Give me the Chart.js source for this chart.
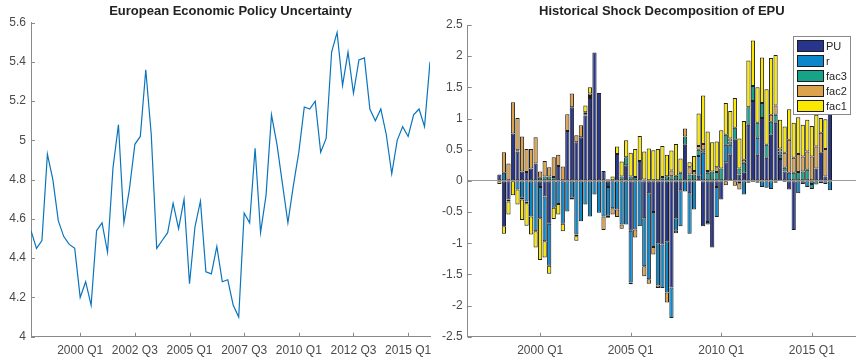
<!DOCTYPE html>
<html>
<head>
<meta charset="utf-8">
<script src="https://cdn.jsdelivr.net/npm/chart.js@4/dist/chart.umd.min.js"></script>
<style>
  html, body { margin: 0; padding: 0; background: #fff; }
  #wrap { position: relative; width: 856px; height: 361px; overflow: hidden; }
  #epuLine { position: absolute; left: 0; top: 0; }
  #epuDecomp { position: absolute; left: 440px; top: 0; }
</style>
</head>
<body>
<div id="wrap">
  <canvas id="epuLine" width="440" height="361"></canvas>
  <canvas id="epuDecomp" width="416" height="361"></canvas>
</div>
<script>
// Quarterly sample
const quarters = [
  '1997Q4',
  '1998Q1','1998Q2','1998Q3','1998Q4',
  '1999Q1','1999Q2','1999Q3','1999Q4',
  '2000Q1','2000Q2','2000Q3','2000Q4',
  '2001Q1','2001Q2','2001Q3','2001Q4',
  '2002Q1','2002Q2','2002Q3','2002Q4',
  '2003Q1','2003Q2','2003Q3','2003Q4',
  '2004Q1','2004Q2','2004Q3','2004Q4',
  '2005Q1','2005Q2','2005Q3','2005Q4',
  '2006Q1','2006Q2','2006Q3','2006Q4',
  '2007Q1','2007Q2','2007Q3','2007Q4',
  '2008Q1','2008Q2','2008Q3','2008Q4',
  '2009Q1','2009Q2','2009Q3','2009Q4',
  '2010Q1','2010Q2','2010Q3','2010Q4',
  '2011Q1','2011Q2','2011Q3','2011Q4',
  '2012Q1','2012Q2','2012Q3','2012Q4',
  '2013Q1','2013Q2','2013Q3','2013Q4',
  '2014Q1','2014Q2','2014Q3','2014Q4',
  '2015Q1','2015Q2','2015Q3','2015Q4',
  '2016Q1'
];

// European Economic Policy Uncertainty (log level)
const epu = [
  4.54,
  4.45, 4.49, 4.93, 4.80,
  4.59, 4.51, 4.47, 4.45,
  4.20, 4.28, 4.16, 4.54,
  4.58, 4.43, 4.86, 5.08,
  4.58, 4.75, 4.98, 5.02,
  5.36, 5.03, 4.45, 4.49,
  4.53, 4.68, 4.55, 4.70,
  4.27, 4.56, 4.69, 4.33,
  4.32, 4.46, 4.28, 4.29,
  4.16, 4.10, 4.63, 4.58,
  4.96, 4.53, 4.72, 5.13,
  4.98, 4.78, 4.58, 4.77,
  4.94, 5.17, 5.16, 5.20,
  4.94, 5.01, 5.45, 5.55,
  5.28, 5.45, 5.24, 5.41,
  5.42, 5.16, 5.10, 5.16,
  5.03, 4.83, 5.00, 5.07,
  5.02, 5.13, 5.16, 5.07,
  5.40
];

// Historical shock decomposition contributions
const shockPU = [
  0.10,
  -0.73, -0.30, 0.76, 0.47,
  0.15, 0.14, 0.20, 0.28,
  -0.10, -0.25, -0.69, 0.00,
  0.24, 0.00, 0.80, 1.18,
  0.62, 0.70, 1.05, 1.33,
  2.06, 1.41, 0.16, -0.10,
  0.00, 0.43, 0.00, 0.25,
  -0.80, 0.00, 0.32, -0.60,
  -0.20, -0.50, -1.00, -1.02,
  -0.97, -1.71, -0.60, -0.15,
  0.58, -0.20, 0.00, 0.08,
  -0.73, -0.66, -1.07, -0.10,
  -0.30, 0.30, 0.42, 0.66,
  0.10, 0.13, 0.90, 1.28,
  0.42, 1.01, 0.37, 0.74,
  0.93, 0.35, 0.15, -0.14,
  -0.79, 0.00, -0.05, 0.00,
  0.00, 0.20, 0.45, 0.07,
  1.15
];
const shockR = [
  0.00,
  0.13, 0.00, 0.00, -0.14,
  -0.27, -0.33, -0.57, -0.81,
  -0.50, -0.72, -0.67, -0.43,
  -0.37, -0.69, -0.49, -0.27,
  -0.86, -0.65, -0.38, -0.57,
  -0.22, -0.51, -0.57, -0.46,
  -0.44, -0.46, -0.70, -0.70,
  -0.83, -0.78, -0.73, -0.77,
  -1.38, -0.56, -0.68, -0.70,
  -0.82, -0.49, -0.20, -0.58,
  -0.17, -0.65, -0.46, 0.32,
  0.45, -0.04, 0.00, -0.48,
  0.00, 0.28, 0.16, 0.00,
  -0.04, -0.22, -0.03, -0.02,
  0.27, -0.10, -0.11, -0.13,
  -0.03, 0.07, -0.02, 0.13,
  0.00, -0.20, 0.00, -0.10,
  -0.05, 0.00, -0.04, -0.05,
  -0.15
];
const shockFac3 = [
  0.00,
  0.00, -0.03, 0.00, 0.02,
  -0.03, -0.03, 0.00, 0.00,
  0.05, 0.07, 0.07, 0.06,
  0.00, 0.00, 0.00, -0.03,
  -0.03, 0.00, 0.02, 0.03,
  0.00, 0.00, 0.00, -0.03,
  0.00, 0.00, 0.07, 0.13,
  0.07, 0.06, 0.00, 0.02,
  0.00, 0.00, 0.00, 0.06,
  0.075, 0.075, 0.08, 0.13,
  0.13, 0.10, 0.10, 0.10,
  0.04, 0.13, 0.15, 0.14,
  0.20, 0.16, 0.05, 0.19,
  0.10, 0.16, 0.28, 0.24,
  0.24, 0.24, 0.21, 0.21,
  0.13, 0.05, 0.06, 0.00,
  0.13, 0.14, 0.15, 0.18,
  -0.08, -0.06, 0.00, 0.00,
  0.00
];
const shockFac2 = [
  0.00,
  0.33, 0.28, 0.50, 0.52,
  0.56, 0.37, 0.31, 0.42,
  0.10, 0.25, 0.15, 0.32,
  0.18, 0.23, 0.27, 0.22,
  0.11, 0.19, 0.03, 0.04,
  0.00, 0.00, -0.22, 0.02,
  -0.10, -0.12, -0.07, 0.00,
  -0.03, -0.13, 0.00, -0.16,
  -0.07, -0.12, -0.04, 0.00,
  -0.16, 0.09, -0.04, 0.00,
  0.13, 0.12, 0.06, 0.06,
  0.10, 0.03, 0.00, 0.08,
  0.00, -0.07, 0.05, -0.08,
  -0.10, 0.05, 0.00, 0.00,
  -0.03, 0.00, 0.00, 0.11,
  0.15, 0.05, 0.24, 0.53,
  0.24, 0.29, 0.24, 0.29,
  0.39, 0.35, 0.32, 0.44,
  0.00
];
const shockFac1 = [
  -0.05,
  -0.12, -0.21, -0.23, -0.24,
  -0.33, -0.36, -0.29, -0.26,
  -0.67, -0.26, -0.13, -0.18,
  -0.17, -0.12, 0.00, 0.00,
  -0.07, 0.00, 0.11, 0.10,
  0.00, 0.00, 0.00, 0.01,
  0.07, 0.12, 0.24, 0.27,
  0.38, 0.45, 0.40, 0.45,
  0.52, 0.49, 0.51, 0.50,
  0.345, 0.32, 0.51, 0.23,
  0.00, 0.08, 0.24, 0.52,
  0.78, 0.63, 0.47, 0.41,
  0.61, 0.51, 0.44, 0.48,
  0.48, 0.62, 0.75, 0.73,
  0.57, 0.73, 0.89, 0.91,
  0.81, 0.46, 0.42, 0.49,
  0.56, 0.59, 0.51, 0.51,
  0.49, 0.51, 0.24, 0.48,
  0.00
];

// Axis ticks
const lineXTicks = [2000, 2002.5, 2005, 2007.5, 2010, 2012.5, 2015];
const lineXLabels = ['2000 Q1', '2002 Q3', '2005 Q1', '2007 Q3', '2010 Q1', '2012 Q3', '2015 Q1'];
const lineYTicks = [4, 4.2, 4.4, 4.6, 4.8, 5, 5.2, 5.4, 5.6];
const barXTicks = [2000, 2005, 2010, 2015];
const barXLabels = ['2000 Q1', '2005 Q1', '2010 Q1', '2015 Q1'];
const barYTicks = [-2.5, -2, -1.5, -1, -0.5, 0, 0.5, 1, 1.5, 2, 2.5];

const seriesNames = ['PU', 'r', 'fac3', 'fac2', 'fac1'];
const seriesColors = ['#27358d', '#0c87cb', '#16a388', '#dda34c', '#fbe800'];

// ---- helpers ----
const qTime = q => parseInt(q.slice(0, 4), 10) + (parseInt(q.slice(5), 10) - 1) / 4;
const xs = quarters.map(qTime);
const pairs = vals => vals.map((v, i) => ({ x: xs[i], y: v }));

const FONT = '"Liberation Sans", Arial, Helvetica, sans-serif';
const AXIS = '#8a8a8a';
const TICKTXT = '#4a4a4a';

Chart.defaults.font.family = FONT;
Chart.defaults.animation = false;

// Short tick marks pointing into the plot
const innerTicks = {
  id: 'innerTicks',
  afterDraw(chart, args, opts) {
    const { ctx, chartArea: a, scales } = chart;
    const len = opts.len || 4;
    ctx.save();
    ctx.strokeStyle = opts.color || AXIS;
    ctx.lineWidth = 1;
    ctx.beginPath();
    scales.x.ticks.forEach(t => {
      const px = Math.round(scales.x.getPixelForValue(t.value)) + 0.5;
      ctx.moveTo(px, a.bottom);
      ctx.lineTo(px, a.bottom - len);
    });
    scales.y.ticks.forEach(t => {
      const py = Math.round(scales.y.getPixelForValue(t.value)) + 0.5;
      ctx.moveTo(a.left, py);
      ctx.lineTo(a.left + len, py);
    });
    ctx.stroke();
    ctx.restore();
  }
};

// Boxed legend placed inside the upper-right corner of the plot
const boxLegend = {
  id: 'boxLegend',
  afterDraw(chart, args, opts) {
    if (!opts.display) return;
    const { ctx, chartArea: a } = chart;
    const w = 58, h = 79;
    const left = a.right - 63, top = a.top + 11;
    ctx.save();
    ctx.fillStyle = '#ffffff';
    ctx.fillRect(left, top, w, h);
    ctx.strokeStyle = '#8a8a8a';
    ctx.lineWidth = 1;
    ctx.strokeRect(left + 0.5, top + 0.5, w - 1, h - 1);
    ctx.font = '11px ' + FONT;
    ctx.textAlign = 'left';
    ctx.textBaseline = 'middle';
    chart.data.datasets.forEach((ds, i) => {
      const cy = top + 10 + i * 15;
      ctx.fillStyle = ds.backgroundColor;
      ctx.fillRect(left + 4.5, cy - 5.5, 26, 11);
      ctx.strokeStyle = '#1e1e1e';
      ctx.strokeRect(left + 4.5, cy - 5.5, 26, 11);
      ctx.fillStyle = '#262626';
      ctx.fillText(ds.label, left + 33, cy + 0.5);
    });
    ctx.restore();
  }
};

function setTicks(values) {
  return scale => { scale.ticks = values.map(v => ({ value: v })); };
}

function baseScale(opts) {
  return Object.assign({
    type: 'linear',
    grid: { display: false, drawTicks: false, tickLength: 0 },
    border: { display: true, color: AXIS, width: 1 },
    ticks: { color: TICKTXT, font: { size: 12, family: FONT }, maxRotation: 0, autoSkip: false }
  }, opts);
}

// ---- left: EPU line ----
new Chart(document.getElementById('epuLine'), {
  type: 'line',
  data: {
    datasets: [{
      label: 'EPU',
      data: pairs(epu),
      borderColor: '#0a74bd',
      borderWidth: 1.2,
      pointRadius: 0,
      tension: 0,
      fill: false
    }]
  },
  options: {
    responsive: false,
    devicePixelRatio: 1,
    layout: { padding: { left: 0, right: 10, top: 0, bottom: 0 } },
    plugins: {
      legend: { display: false },
      tooltip: { enabled: false },
      title: {
        display: true,
        text: 'European Economic Policy Uncertainty',
        color: '#222222',
        font: { size: 13, weight: 'bold', family: FONT },
        padding: { top: 4, bottom: 3 },
        fullSize: false
      },
      innerTicks: { len: 4, color: AXIS }
    },
    scales: {
      x: baseScale({
        min: qTime(quarters[0]),
        max: qTime(quarters[quarters.length - 1]),
        afterBuildTicks: setTicks(lineXTicks),
        afterFit: s => { s.height = 24.3; },
        ticks: {
          color: TICKTXT, font: { size: 12, family: FONT }, maxRotation: 0, autoSkip: false, padding: 7,
          callback: v => lineXLabels[lineXTicks.indexOf(v)]
        }
      }),
      y: baseScale({
        min: 4,
        max: 5.6,
        afterBuildTicks: setTicks(lineYTicks),
        afterFit: s => { s.width = 31; },
        ticks: {
          color: TICKTXT, font: { size: 12, family: FONT }, padding: 5,
          callback: v => String(v)
        }
      })
    }
  },
  plugins: [innerTicks]
});

// ---- right: stacked shock decomposition ----
const shockSeries = [shockPU, shockR, shockFac3, shockFac2, shockFac1];
new Chart(document.getElementById('epuDecomp'), {
  type: 'bar',
  data: {
    datasets: shockSeries.map((vals, i) => ({
      label: seriesNames[i],
      data: pairs(vals),
      backgroundColor: seriesColors[i],
      borderColor: '#1e1e1e',
      borderWidth: 1,
      borderSkipped: false,
      barPercentage: 0.93,
      categoryPercentage: 1.0
    }))
  },
  options: {
    responsive: false,
    devicePixelRatio: 1,
    layout: { padding: { left: 0, right: 0, top: 0, bottom: 0 } },
    plugins: {
      legend: { display: false },
      tooltip: { enabled: false },
      title: {
        display: true,
        text: 'Historical Shock Decomposition of EPU',
        color: '#222222',
        font: { size: 13, weight: 'bold', family: FONT },
        padding: { top: 4, bottom: 5.4 },
        fullSize: false
      },
      innerTicks: { len: 4, color: AXIS },
      boxLegend: { display: true }
    },
    scales: {
      x: baseScale({
        stacked: true,
        min: 1996,
        max: 2017.44,
        offset: false,
        afterBuildTicks: setTicks(barXTicks),
        afterFit: s => { s.height = 24.3; },
        ticks: {
          color: TICKTXT, font: { size: 12, family: FONT }, maxRotation: 0, autoSkip: false, padding: 7,
          callback: v => barXLabels[barXTicks.indexOf(v)]
        }
      }),
      y: baseScale({
        stacked: true,
        min: -2.5,
        max: 2.5,
        afterBuildTicks: setTicks(barYTicks),
        afterFit: s => { s.width = 27.7; },
        grid: {
          display: true, drawTicks: false, tickLength: 0,
          color: c => (c.tick && c.tick.value === 0 ? '#9a9a9a' : 'rgba(0,0,0,0)'),
          lineWidth: 1
        },
        ticks: {
          color: TICKTXT, font: { size: 12, family: FONT }, padding: 5,
          callback: v => String(v)
        }
      })
    }
  },
  plugins: [innerTicks, boxLegend]
});
</script>
</body>
</html>
